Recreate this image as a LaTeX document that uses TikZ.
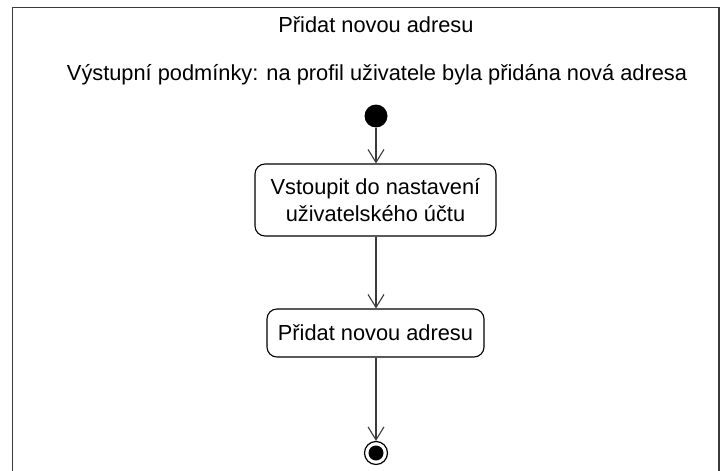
\documentclass[tikz,border=0pt]{standalone}
\usepackage{fontspec}
\setmainfont{Liberation Sans}
\usetikzlibrary{arrows.meta}
\definecolor{linegray}{HTML}{3A3A3A}
\begin{document}
\begin{tikzpicture}[x=1pt,y=-1pt,
  every node/.style={font=\fontsize{21.8}{27}\selectfont, text=black},
  action/.style={draw=black, line width=1.1pt, rounded corners=10pt, align=center, inner sep=0pt},
  flow/.style={draw=linegray, line width=1.1pt, -{Straight Barb[length=13pt,width=16pt,line width=1.1pt]}},
  startnode/.style={circle, fill=black, minimum size=23pt, inner sep=0pt},
  endouter/.style={circle, draw=black, line width=1.2pt, fill=white, minimum size=23pt, inner sep=0pt},
  endinner/.style={circle, fill=black, minimum size=15pt, inner sep=0pt}]
  \useasboundingbox (0,0) rectangle (726,471);
  % frame of the activity
  \draw[linegray, line width=1.6pt] (12.5,474) -- (12.5,7.5) -- (719,7.5) -- (719,474);
  % headings
  \node (title) at (376,25) {Přidat novou adresu};
  \node (post) at (377,75) {Výstupní podmínky: na profil uživatele byla přidána nová adresa};
  % activity nodes
  \node[startnode] (start) at (376,116) {};
  \node[action, minimum width=241pt, minimum height=72pt] (settings) at (375.5,200)
    {Vstoupit do nastavení\\uživatelského účtu};
  \node[action, minimum width=217pt, minimum height=48pt] (add) at (375.5,333)
    {Přidat novou adresu};
  \node[endouter] (finish) at (376,453) {};
  \node[endinner] (finishdot) at (376,453) {};
  % control flows
  \draw[flow] (start) -- (settings.north -| start);
  \draw[flow] (settings.south -| start) -- (add.north -| start);
  \draw[flow] (add.south -| start) -- (finish.north);
\end{tikzpicture}
\end{document}
